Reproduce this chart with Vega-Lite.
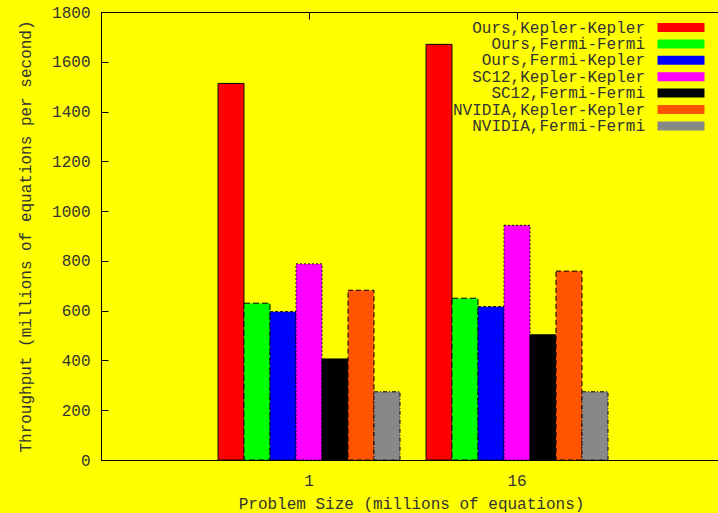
{
  "$schema": "https://vega.github.io/schema/vega-lite/v6.json",
  "width": 624,
  "height": 448,
  "autosize": "none",
  "padding": {"left": 101, "top": 12, "right": 0, "bottom": 53},
  "background": "#ffff00",
  "config": {
    "view": {"stroke": null},
    "font": "Liberation Mono",
    "axis": {"labelFont": "Liberation Mono", "titleFont": "Liberation Mono", "labelFontSize": 16, "titleFontSize": 16, "labelColor": "#333333", "titleColor": "#333333", "titleFontWeight": "normal", "domainColor": "black", "tickColor": "black", "grid": false}
  },
  "data": {
    "values": [
      {"size": "1", "series": "Ours,Kepler-Kepler", "value": 1513},
      {"size": "1", "series": "Ours,Fermi-Fermi", "value": 630},
      {"size": "1", "series": "Ours,Fermi-Kepler", "value": 596},
      {"size": "1", "series": "SC12,Kepler-Kepler", "value": 788},
      {"size": "1", "series": "SC12,Fermi-Fermi", "value": 406},
      {"size": "1", "series": "NVIDIA,Kepler-Kepler", "value": 682},
      {"size": "1", "series": "NVIDIA,Fermi-Fermi", "value": 274},
      {"size": "16", "series": "Ours,Kepler-Kepler", "value": 1670},
      {"size": "16", "series": "Ours,Fermi-Fermi", "value": 650},
      {"size": "16", "series": "Ours,Fermi-Kepler", "value": 616},
      {"size": "16", "series": "SC12,Kepler-Kepler", "value": 943},
      {"size": "16", "series": "SC12,Fermi-Fermi", "value": 503},
      {"size": "16", "series": "NVIDIA,Kepler-Kepler", "value": 759},
      {"size": "16", "series": "NVIDIA,Fermi-Fermi", "value": 274}
    ]
  },
  "layer": [
    {
      "mark": {"type": "bar", "stroke": "black", "strokeWidth": 1},
      "encoding": {
        "x": {
          "field": "size", "type": "nominal", "sort": ["1", "16"],
          "scale": {"domain": ["1", "16"], "paddingInner": 0.125, "paddingOuter": 0.5625},
          "axis": {"orient": "bottom", "title": "Problem Size (millions of equations)", "labelAngle": 0, "ticks": false, "labelPadding": 12, "titleX": 310, "titleY": 43, "titleBaseline": "middle", "titleAlign": "center", "domainWidth": 1}
        },
        "xOffset": {
          "field": "series", "type": "nominal",
          "scale": {"domain": ["Ours,Kepler-Kepler", "Ours,Fermi-Fermi", "Ours,Fermi-Kepler", "SC12,Kepler-Kepler", "SC12,Fermi-Fermi", "NVIDIA,Kepler-Kepler", "NVIDIA,Fermi-Fermi"], "paddingInner": 0, "paddingOuter": 0}
        },
        "y": {
          "field": "value", "type": "quantitative",
          "scale": {"domain": [0, 1800], "nice": false},
          "axis": {"orient": "left", "title": "Throughput (millions of equations per second)", "format": "d", "values": [0, 200, 400, 600, 800, 1000, 1200, 1400, 1600, 1800], "tickSize": -7, "labelPadding": 18, "titleX": -76, "titleY": 224, "titleAngle": -90, "titleBaseline": "middle", "titleAlign": "center", "domainWidth": 1}
        },
        "color": {
          "field": "series", "type": "nominal",
          "scale": {"domain": ["Ours,Kepler-Kepler", "Ours,Fermi-Fermi", "Ours,Fermi-Kepler", "SC12,Kepler-Kepler", "SC12,Fermi-Fermi", "NVIDIA,Kepler-Kepler", "NVIDIA,Fermi-Fermi"], "range": ["#ff0000", "#00ff00", "#0000ff", "#ff00ff", "#000000", "#ff5500", "#888888"]},
          "legend": {"title": null, "orient": "none", "legendX": 572, "legendY": 7.5, "symbolType": "M-5.22,-1L5.22,-1L5.22,1L-5.22,1Z", "symbolSize": 81, "symbolStrokeColor": "black", "symbolStrokeWidth": 1, "labelAlign": "right", "labelOffset": -44, "labelFont": "Liberation Mono", "labelFontSize": 16, "labelColor": "#333333", "labelLimit": 400, "rowPadding": 0.4, "padding": 0}
        },
        "strokeDash": {
          "field": "series", "type": "nominal",
          "scale": {"domain": ["Ours,Kepler-Kepler", "Ours,Fermi-Fermi", "Ours,Fermi-Kepler", "SC12,Kepler-Kepler", "SC12,Fermi-Fermi", "NVIDIA,Kepler-Kepler", "NVIDIA,Fermi-Fermi"], "range": [[1, 0], [6, 3], [3, 2], [2, 2], [1, 0], [5, 3], [4, 2, 1, 2]]},
          "legend": {"title": null, "orient": "none", "legendX": 572, "legendY": 7.5, "symbolType": "M-5.22,-1L5.22,-1L5.22,1L-5.22,1Z", "symbolSize": 81, "symbolStrokeColor": "black", "symbolStrokeWidth": 1, "labelAlign": "right", "labelOffset": -44, "labelFont": "Liberation Mono", "labelFontSize": 16, "labelColor": "#333333", "labelLimit": 400, "rowPadding": 0.4, "padding": 0}
        }
      }
    },
    {
      "mark": {"type": "bar", "opacity": 0},
      "encoding": {
        "x": {"field": "size", "type": "nominal", "sort": ["1", "16"], "axis": {"orient": "top", "title": null, "labels": false, "tickSize": -7, "domainWidth": 1}},
        "y": {"field": "value", "type": "quantitative", "axis": {"orient": "right", "title": null, "labels": false, "tickSize": -7, "values": [0, 200, 400, 600, 800, 1000, 1200, 1400, 1600, 1800], "domainWidth": 1}}
      }
    }
  ],
  "resolve": {"axis": {"x": "independent", "y": "independent"}}
}
